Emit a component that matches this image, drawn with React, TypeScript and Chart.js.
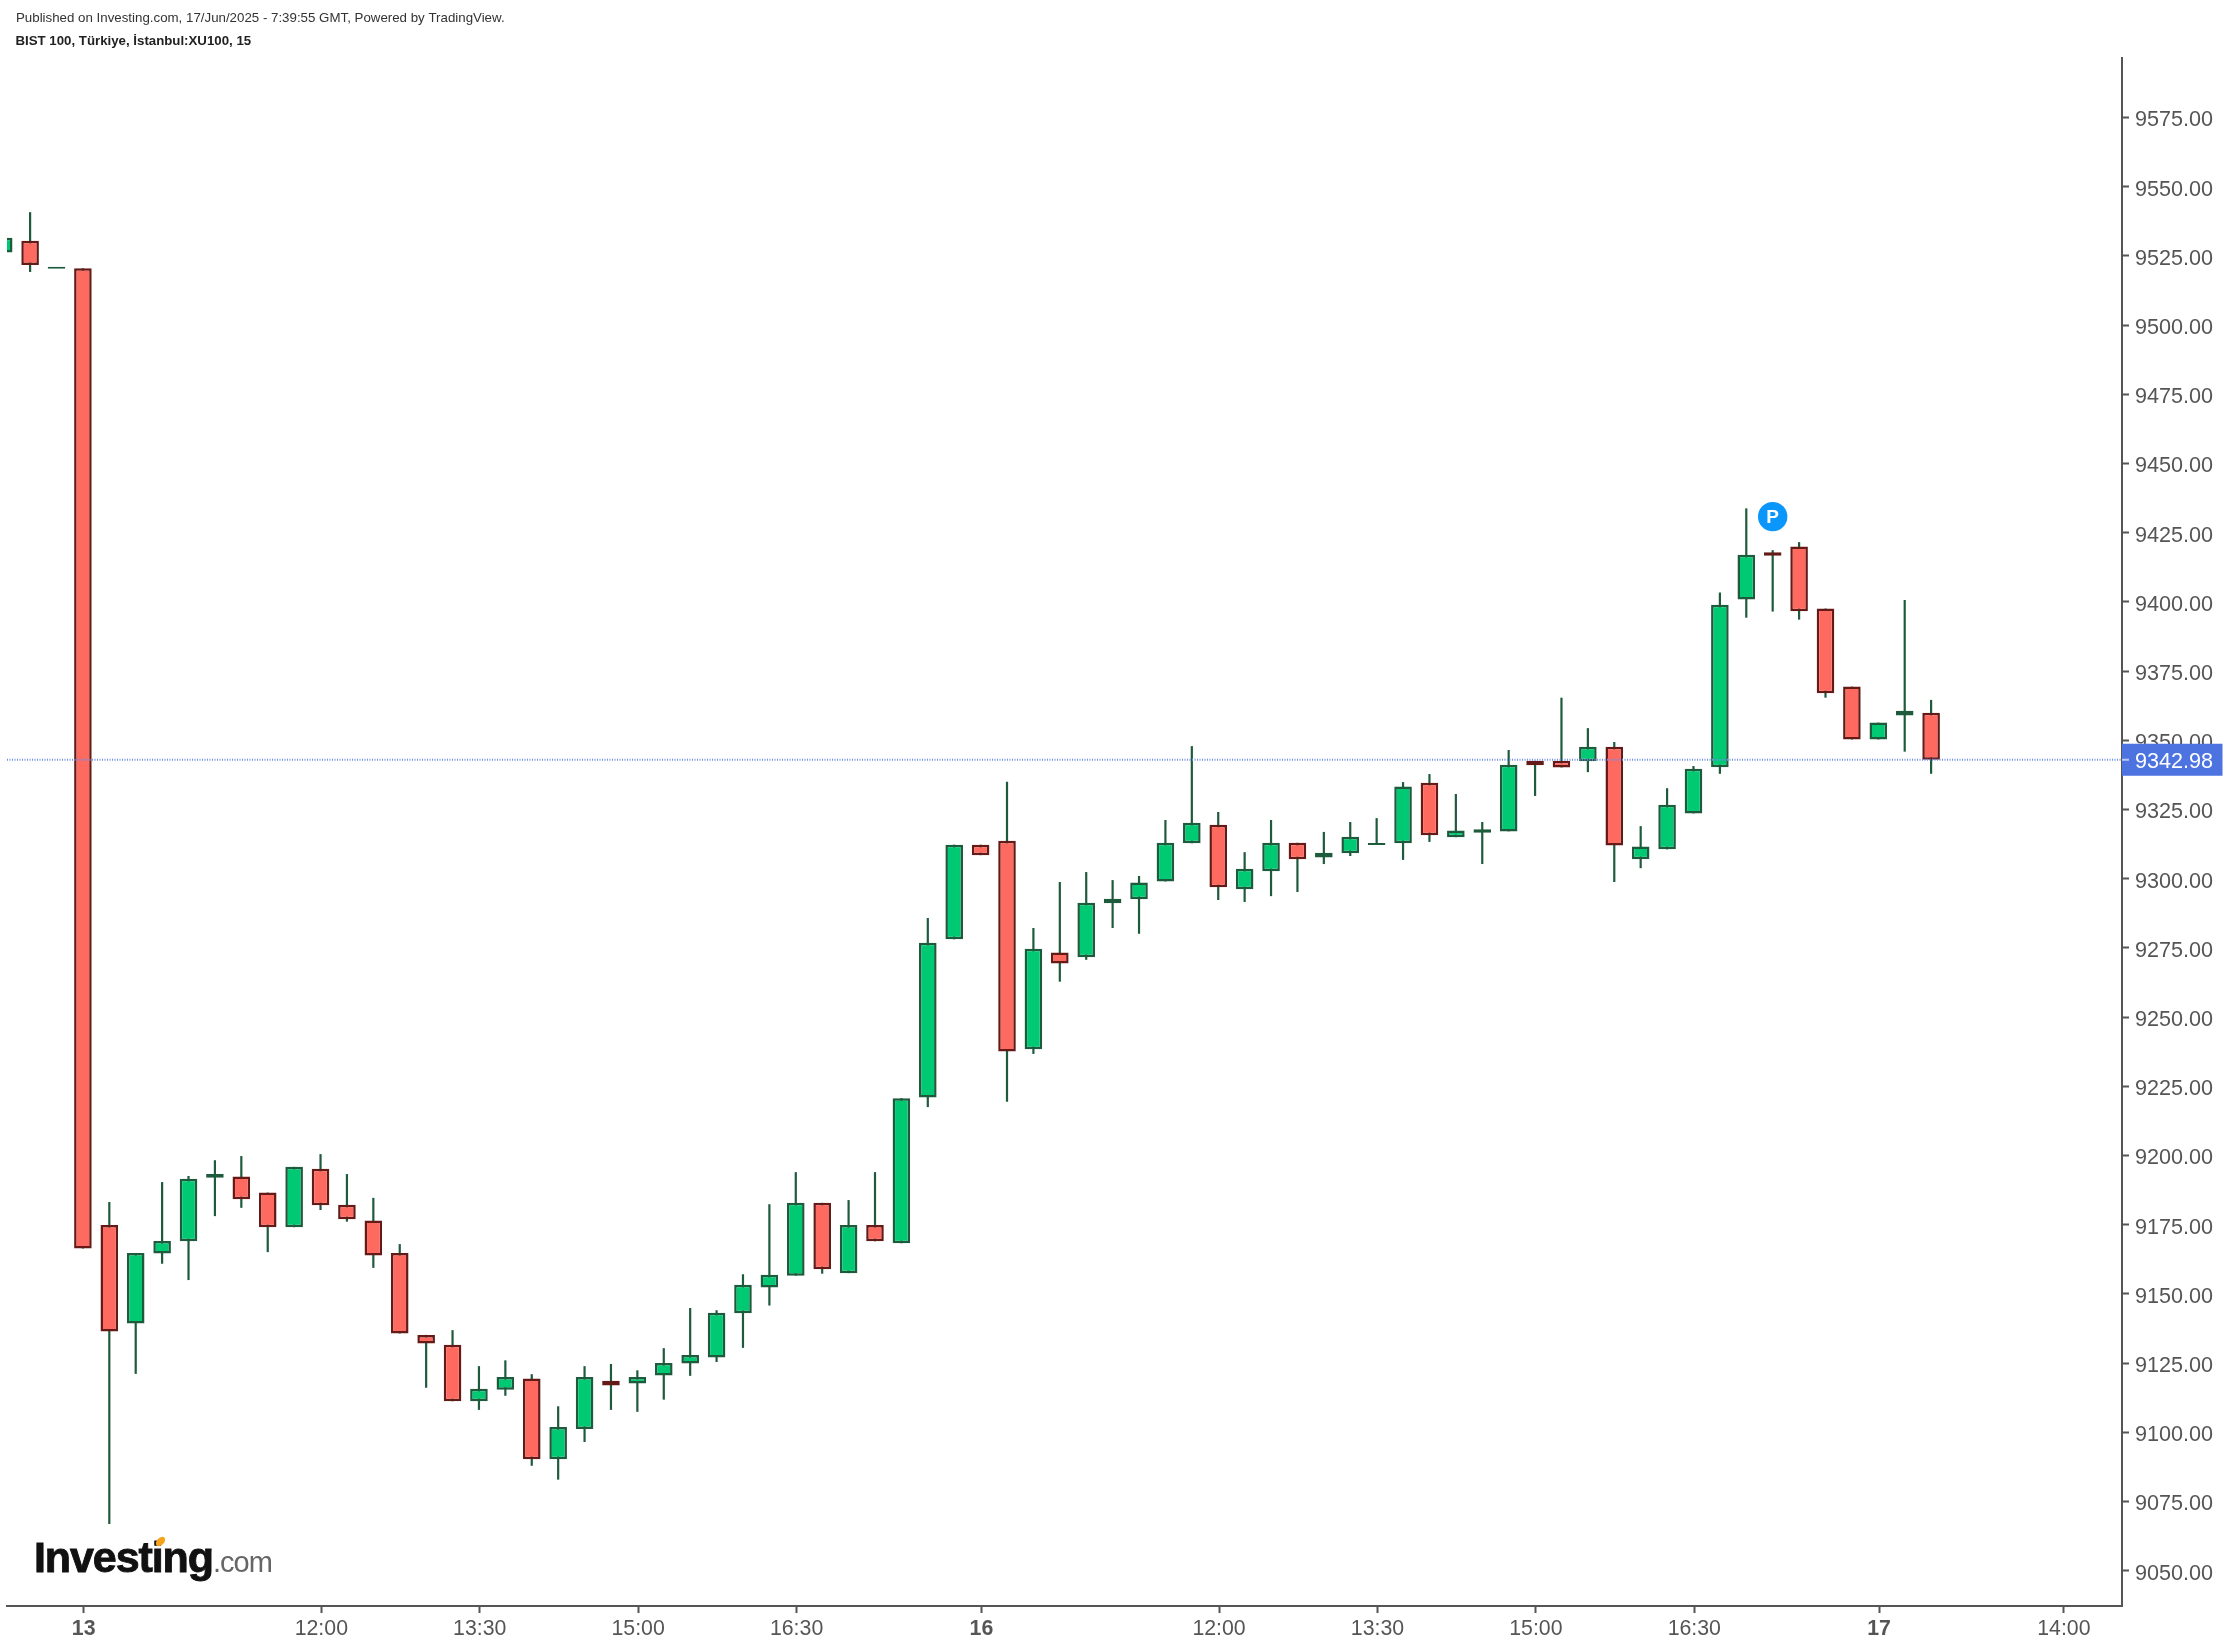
import React, { useEffect, useRef } from "react";
import Chart from "chart.js/auto";

const opens = [9526.2, 9530.5, 9520.4, 9520.5, 9174.9, 9139.3, 9164.6, 9169.0, 9192.0, 9192.4, 9186.6, 9174.1, 9195.2, 9182.2, 9176.5, 9164.8, 9135.2, 9131.6, 9111.2, 9115.4, 9119.4, 9090.3, 9101.2, 9118.6, 9117.6, 9120.5, 9124.9, 9127.0, 9143.0, 9152.3, 9156.6, 9182.9, 9157.5, 9174.9, 9168.3, 9221.0, 9278.1, 9312.3, 9313.7, 9238.4, 9273.3, 9271.6, 9291.1, 9292.6, 9299.0, 9312.8, 9319.5, 9296.2, 9302.7, 9313.0, 9307.7, 9309.2, 9312.2, 9312.8, 9334.7, 9315.0, 9316.6, 9317.1, 9342.6, 9342.6, 9342.4, 9347.7, 9307.0, 9310.6, 9323.6, 9340.3, 9400.9, 9417.9, 9420.0, 9397.6, 9369.4, 9350.3, 9359.0, 9360.0];
const highs = [9531.6, 9540.8, 9520.4, 9520.5, 9183.2, 9164.8, 9190.4, 9192.6, 9198.3, 9199.8, 9186.6, 9195.9, 9200.5, 9193.3, 9184.7, 9168.0, 9135.2, 9136.9, 9123.9, 9126.0, 9121.0, 9109.4, 9123.9, 9124.7, 9122.4, 9130.4, 9144.9, 9144.1, 9157.1, 9182.4, 9194.0, 9182.9, 9183.9, 9194.0, 9220.7, 9285.8, 9312.3, 9312.3, 9335.0, 9282.2, 9298.8, 9302.4, 9299.5, 9301.0, 9321.2, 9347.9, 9324.1, 9309.6, 9321.2, 9313.0, 9316.9, 9320.5, 9321.9, 9334.9, 9337.8, 9330.6, 9320.5, 9346.5, 9342.6, 9365.4, 9354.4, 9349.4, 9319.0, 9332.7, 9340.7, 9403.4, 9433.8, 9418.7, 9421.6, 9397.6, 9369.4, 9356.4, 9400.7, 9364.6];
const lows = [9526.2, 9519.2, 9520.4, 9166.4, 9066.9, 9121.1, 9160.9, 9155.0, 9178.1, 9181.1, 9165.1, 9174.1, 9180.3, 9176.1, 9159.4, 9135.7, 9116.1, 9111.2, 9108.1, 9113.2, 9087.9, 9082.9, 9096.5, 9108.1, 9107.4, 9111.8, 9120.4, 9125.4, 9130.5, 9145.8, 9156.6, 9157.3, 9157.5, 9169.0, 9168.3, 9217.5, 9278.1, 9308.5, 9219.4, 9236.7, 9262.8, 9270.7, 9282.2, 9280.1, 9299.0, 9312.8, 9292.3, 9291.6, 9293.7, 9295.2, 9305.3, 9308.2, 9312.2, 9306.8, 9313.3, 9315.0, 9305.3, 9317.1, 9329.9, 9340.2, 9338.5, 9298.8, 9303.8, 9310.6, 9323.6, 9337.9, 9394.3, 9396.5, 9393.6, 9365.4, 9350.3, 9350.3, 9345.9, 9337.9];
const closes = [9531.6, 9521.7, 9520.4, 9166.4, 9136.4, 9164.8, 9169.1, 9191.6, 9193.3, 9184.2, 9174.1, 9195.9, 9182.0, 9177.0, 9163.9, 9135.7, 9132.1, 9111.2, 9115.7, 9120.0, 9090.3, 9101.9, 9120.0, 9116.9, 9120.0, 9125.0, 9127.9, 9143.2, 9153.3, 9156.9, 9182.9, 9158.9, 9174.9, 9169.0, 9220.7, 9276.9, 9312.3, 9308.5, 9237.6, 9274.7, 9269.4, 9291.3, 9292.8, 9298.6, 9313.0, 9320.2, 9296.9, 9303.6, 9313.0, 9307.0, 9309.4, 9315.2, 9312.2, 9333.3, 9315.7, 9317.4, 9317.9, 9341.2, 9341.0, 9340.2, 9347.7, 9312.0, 9311.6, 9326.7, 9339.7, 9399.0, 9417.0, 9416.7, 9396.6, 9367.0, 9350.3, 9356.4, 9360.7, 9342.98];

const xTickBars = [3, 12, 18, 24, 30, 37, 46, 52, 58, 64, 71, 78];
const xTickLabels = ["13", "12:00", "13:30", "15:00", "16:30", "16", "12:00", "13:30", "15:00", "16:30", "17", "14:00"];
const boldLabels = ["13", "16", "17"];
const yTickValues = [9050, 9075, 9100, 9125, 9150, 9175, 9200, 9225, 9250, 9275, 9300, 9325, 9350, 9375, 9400, 9425, 9450, 9475, 9500, 9525, 9550, 9575];

const lastPrice = 9342.98;
const markerBar = 67;
const markerValue = 9430.8;

const xMin = 0.125;
const xMax = 80.23;
const yMin = 9037.25;
const yMax = 9596.5;

const FONT = '"Liberation Sans", Arial, sans-serif';
const AXIS_COLOR = "#555555";
const WICK_COLOR = "#1e5a3c";

const isUp = (i: number) => closes[i] >= opens[i];

// header, logo, last price tag and the P inside its marker
const overlayPlugin = {
  id: "overlay",
  afterDraw(chart: any) {
    const { ctx, scales } = chart;
    ctx.save();

    ctx.textBaseline = "alphabetic";
    ctx.textAlign = "left";
    ctx.fillStyle = "#333333";
    ctx.font = `13.3px ${FONT}`;
    ctx.fillText("Published on Investing.com, 17/Jun/2025 - 7:39:55 GMT, Powered by TradingView.", 16, 22);
    ctx.fillStyle = "#222222";
    ctx.font = `bold 13.25px ${FONT}`;
    ctx.fillText("BIST 100, Türkiye, İstanbul:XU100, 15", 15.5, 45);

    // logo
    ctx.save();
    ctx.filter = "blur(0.7px)";
    ctx.fillStyle = "#111111";
    ctx.strokeStyle = "#111111";
    ctx.lineWidth = 0.9;
    ctx.font = `bold 43px ${FONT}`;
    ctx.letterSpacing = "-1.1px";
    ctx.fillText("Investing", 34, 1571.5);
    ctx.strokeText("Investing", 34, 1571.5);
    ctx.fillStyle = "#666666";
    ctx.font = `29px ${FONT}`;
    ctx.letterSpacing = "-1px";
    ctx.fillText(".com", 213, 1571.5);
    ctx.letterSpacing = "0px";
    ctx.fillStyle = "#f7a21b";
    ctx.beginPath();
    ctx.ellipse(160.5, 1541.5, 5.5, 3.6, -0.8, 0, Math.PI * 2);
    ctx.fill();
    ctx.restore();

    // last price tag
    const tagY = scales.y.getPixelForValue(lastPrice);
    ctx.fillStyle = "#4d73e0";
    ctx.fillRect(2122, tagY - 16, 100.5, 32);
    ctx.fillStyle = "#b9c8f3";
    ctx.fillRect(2122, tagY - 1, 7, 2);
    ctx.fillStyle = "#ffffff";
    ctx.font = `21.6px ${FONT}`;
    ctx.textBaseline = "middle";
    ctx.fillText(lastPrice.toFixed(2), 2135, tagY + 2);

    // marker letter
    ctx.font = `bold 19px ${FONT}`;
    ctx.textAlign = "center";
    ctx.fillText("P", scales.x.getPixelForValue(markerBar), scales.y.getPixelForValue(markerValue) + 1);
    ctx.restore();
  },
};

const App = () => {
  const chartRef = useRef<HTMLCanvasElement | null>(null);

  useEffect(() => {
    if (!chartRef.current) return;

    const chart = new Chart(chartRef.current, {
      type: "bar",
      data: {
        datasets: [
          {
            label: "Wicks",
            order: 3,
            grouped: false,
            barThickness: 2.2,
            inflateAmount: 0,
            backgroundColor: WICK_COLOR,
            borderWidth: 0,
            data: highs.map((h, i) => ({ x: i, y: [lows[i], h] })),
          },
          {
            label: "Bodies",
            order: 2,
            grouped: false,
            barThickness: 17.6,
            minBarLength: 2,
            inflateAmount: 0,
            borderSkipped: false,
            borderWidth: 2.5,
            backgroundColor: opens.map((_, i) => (isUp(i) ? "#00c974" : "#ff6a60")),
            borderColor: opens.map((_, i) => (isUp(i) ? WICK_COLOR : "#641a17")),
            data: opens.map((o, i) => ({ x: i, y: [o, closes[i]] })),
          },
          {
            type: "line",
            label: "Last",
            order: 1,
            borderColor: "#6f8cea",
            borderWidth: 2,
            borderDash: [1, 1.5],
            pointRadius: 0,
            data: [
              { x: xMin, y: lastPrice },
              { x: xMax, y: lastPrice },
            ],
          },
          {
            type: "line",
            label: "Marker",
            order: 0,
            showLine: false,
            pointRadius: 14.7,
            pointBackgroundColor: "#0a96fb",
            pointBorderWidth: 0,
            data: [{ x: markerBar, y: markerValue }],
          },
        ],
      } as any,
      options: {
        animation: false,
        responsive: false,
        devicePixelRatio: 1,
        layout: { autoPadding: false, padding: { left: 7, top: 58, right: 0, bottom: 0 } },
        plugins: { legend: { display: false }, tooltip: { enabled: false } },
        scales: {
          x: {
            type: "linear",
            offset: false,
            min: xMin,
            max: xMax,
            afterFit: (scale: any) => {
              scale.height = 42;
            },
            afterBuildTicks: (scale: any) => {
              scale.ticks = xTickBars.map((value) => ({ value: value + 0.03 }));
            },
            border: { display: true, color: AXIS_COLOR, width: 2 },
            grid: { offset: false, drawOnChartArea: false, tickLength: 7, tickWidth: 2, tickColor: AXIS_COLOR },
            ticks: {
              autoSkip: false,
              maxRotation: 0,
              padding: 3,
              color: AXIS_COLOR,
              font: (ctx: any) => ({
                family: FONT,
                size: 21.3,
                weight: boldLabels.includes(xTickLabels[ctx.index]) ? "bold" : "normal",
              }),
              callback: (_: any, index: number) => xTickLabels[index],
            },
          },
          y: {
            position: "right",
            min: yMin,
            max: yMax,
            afterFit: (scale: any) => {
              scale.width = 108;
            },
            afterBuildTicks: (scale: any) => {
              scale.ticks = yTickValues.map((value) => ({ value }));
            },
            border: { display: true, color: AXIS_COLOR, width: 2 },
            grid: { drawOnChartArea: false, tickLength: 7, tickWidth: 2, tickColor: AXIS_COLOR },
            ticks: {
              autoSkip: false,
              padding: 6,
              labelOffset: 3,
              color: AXIS_COLOR,
              font: { family: FONT, size: 21.6 },
              callback: (value: any) => Number(value).toFixed(2),
            },
          },
        },
      },
      plugins: [overlayPlugin],
    } as any);

    return () => {
      chart.destroy();
    };
  }, []);

  return (
    <div style={{ position: "absolute", left: 0, top: 0, width: 2230, height: 1648, background: "#ffffff" }}>
      <canvas ref={chartRef} width={2230} height={1648} style={{ display: "block" }} />
    </div>
  );
};

export default App;
